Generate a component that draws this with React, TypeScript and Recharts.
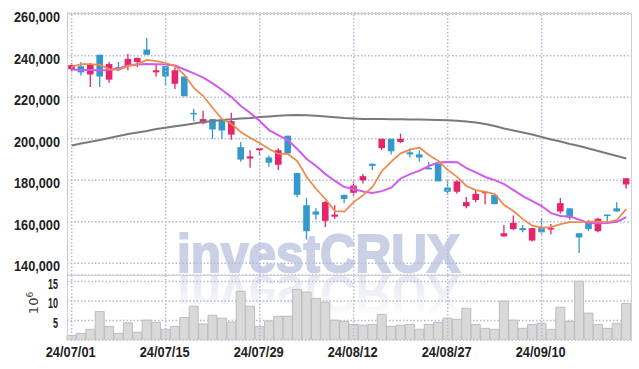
import { ComposedChart, Bar, Line, XAxis, YAxis, CartesianGrid, ReferenceLine } from "recharts";

// trading days shown on the chart
const dates = [
  "24/07/01", "24/07/02", "24/07/03", "24/07/04", "24/07/05", "24/07/08", "24/07/09", "24/07/10", "24/07/11", "24/07/12",
  "24/07/15", "24/07/16", "24/07/17", "24/07/18", "24/07/19", "24/07/22", "24/07/23", "24/07/24", "24/07/25", "24/07/26",
  "24/07/29", "24/07/30", "24/07/31", "24/08/01", "24/08/02", "24/08/05", "24/08/06", "24/08/07", "24/08/08", "24/08/09",
  "24/08/12", "24/08/13", "24/08/14", "24/08/16", "24/08/19", "24/08/20", "24/08/21", "24/08/22", "24/08/23", "24/08/26",
  "24/08/27", "24/08/28", "24/08/29", "24/08/30", "24/09/02", "24/09/03", "24/09/04", "24/09/05", "24/09/06", "24/09/09",
  "24/09/10", "24/09/11", "24/09/12", "24/09/13", "24/09/19", "24/09/20", "24/09/23", "24/09/24", "24/09/25", "24/09/26",
];
const dateTicks = ["24/07/01", "24/07/15", "24/07/29", "24/08/12", "24/08/27", "24/09/10"];

const opens = [
  233500, 235000, 231000, 240500, 228500, 234500, 235000, 237000, 243000, 232000,
  235000, 226500, 230000, 212500, 207500, 209500, 209000, 202000, 196000, 190500,
  194500, 191000, 187500, 201500, 183500, 168000, 165000, 160500, 162500, 173000,
  174000, 180000, 188000, 195500, 200000, 198500, 193500, 192500, 186000, 188000,
  176500, 174500, 167500, 170500, 174000, 173000, 153000, 156500, 157000, 151000,
  157500, 156500, 165000, 166500, 154500, 160000, 155500, 163500, 166500, 178000,
];
const highs = [
  236500, 237000, 236500, 240500, 237000, 237000, 241000, 239000, 248500, 236000,
  235000, 234500, 230000, 214500, 213500, 209500, 209000, 212500, 198500, 194500,
  195500, 192000, 195500, 201500, 183500, 171500, 166500, 170000, 168000, 173000,
  179500, 183000, 188000, 200000, 200000, 202500, 195500, 194500, 189000, 188000,
  180000, 180000, 172000, 175500, 174500, 173000, 158500, 163000, 158500, 157000,
  161500, 159000, 171500, 166500, 154500, 161000, 162000, 163500, 169500, 181000,
];
const lows = [
  232000, 230500, 225000, 225000, 227000, 232500, 233000, 234500, 240500, 230000,
  226000, 224000, 220500, 208500, 207000, 200000, 200000, 199500, 189000, 186000,
  192000, 186500, 185000, 193000, 172000, 151500, 161000, 157500, 161500, 169000,
  172500, 178500, 185000, 194500, 192500, 198000, 191000, 189000, 185500, 179500,
  173000, 173500, 166500, 169500, 168500, 168500, 153000, 156000, 155000, 150500,
  154000, 154000, 164000, 161000, 145000, 155500, 155000, 159500, 165000, 176000,
];
const closes = [
  235500, 232000, 236000, 230000, 236000, 233500, 238500, 239000, 240500, 233000,
  230000, 233000, 220500, 212000, 209500, 204500, 204000, 208500, 190000, 191500,
  195500, 188500, 194500, 193000, 173000, 155500, 163500, 169500, 163500, 171000,
  177500, 182000, 187000, 200000, 194000, 200000, 192500, 191000, 185500, 179500,
  174500, 179500, 169500, 173500, 174500, 168500, 154500, 159500, 156000, 157000,
  155000, 157000, 169000, 162000, 152500, 156500, 161500, 163000, 165000, 181000,
];

const ma5 = [
  234700, 236000, 236000, 235600, 233600, 233200, 235100, 236000, 238000, 237400,
  236500, 235100, 230700, 224500, 220600, 214800, 209500, 207100, 203300, 200400,
  198000, 195100, 192700, 192700, 189300, 181600, 175800, 171000, 165200, 164900,
  169500, 172900, 176800, 184500, 189000, 193000, 194800, 195700, 192200, 189400,
  185000, 181700, 177300, 175300, 174400, 173400, 168100, 165200, 161300, 158200,
  157200, 157500, 158900, 159900, 159800, 160100, 160100, 159800, 160900, 166200,
];
const ma20 = [
  233400, 233200, 233100, 233000, 233100, 233900, 235300, 235800, 236000, 235900,
  235800, 235300, 233400, 231500, 229500, 226700, 223500, 220100, 215800, 212400,
  208600, 204200, 201600, 199400, 195100, 190300, 186900, 183000, 179700, 176800,
  175800, 174600, 173900, 174800, 176500, 180900, 183000, 184700, 186900, 188600,
  188800, 188700, 185900, 183800, 181600, 180100, 178200, 175300, 172400, 170000,
  167600, 164200, 162800, 162600, 161100, 159400, 159300, 159400, 160000, 162300,
];
const ma120 = [
  196800, 197700, 198600, 199400, 200400, 201400, 202300, 203000, 203800, 204700,
  205300, 206000, 206700, 207400, 208100, 208600, 209100, 209400, 209800, 210000,
  210500, 210800, 211100, 211400, 211500, 211300, 211100, 210700, 210400, 210000,
  209800, 209600, 209500, 209500, 209400, 209400, 209300, 209300, 209200, 209100,
  208900, 208700, 208300, 207900, 207100, 206200, 205000, 204000, 203000, 202100,
  200900, 199700, 198700, 197500, 196500, 195300, 194100, 192900, 191700, 190500,
];

// volume in millions of shares (10^6)
const volumes = [
  1.2, 1.7, 2.75, 7.3, 3.5, 1.7, 4.4, 2.0, 5.1, 4.55,
  2.75, 3.5, 5.8, 8.7, 4.1, 6.35, 5.6, 4.6, 12.5, 8.7,
  3.5, 4.9, 6.1, 6.1, 13.0, 12.3, 10.7, 9.7, 5.1, 4.8,
  4.0, 3.8, 4.0, 6.6, 3.5, 3.8, 4.0, 2.75, 4.0, 4.55,
  5.6, 5.3, 8.15, 4.0, 3.0, 2.75, 10.0, 5.1, 3.0, 4.0,
  4.3, 2.75, 8.4, 4.8, 15.1, 6.9, 4.0, 3.0, 4.3, 9.4,
];

const priceTicks = [140000, 160000, 180000, 200000, 220000, 240000, 260000];
const volumeTicks = [5, 10, 15];

const data = dates.map((date, i) => ({
  date,
  open: opens[i],
  high: highs[i],
  low: lows[i],
  close: closes[i],
  ma5: ma5[i],
  ma20: ma20[i],
  ma120: ma120[i],
  volume: volumes[i],
}));

const RED = "#e6246a";
const BLUE = "#3399cc";
const GRID = "#b4b8d3";
const DASH = "1.5 2";
const FONT = "'Liberation Sans', Arial, sans-serif";
const tickFont = { fontFamily: FONT, fontSize: 14.5, fontWeight: 700, fill: "#222" };

const Candle = (props: any) => {
  const { x, y, width, height, payload } = props;
  const { open, close, high, low } = payload;
  const top = Math.min(y, y + height);
  const h = Math.abs(height);
  const ratio = high === low ? 0 : h / (high - low);
  const color = close >= open ? RED : BLUE;
  const cx = x + width / 2;
  const bodyTop = top + (high - Math.max(open, close)) * ratio;
  const bodyH = Math.max(1.5, Math.abs(open - close) * ratio);
  return (
    <g>
      <line x1={cx} x2={cx} y1={top} y2={top + h} stroke={color} strokeWidth={1.3} />
      <rect x={cx - 3.3} y={bodyTop} width={6.6} height={bodyH} fill={color} />
    </g>
  );
};

// the reference uses a narrow bold face, squeeze Liberation Sans to the same width
const PriceTick = ({ x, y, payload }: any) => (
  <text x={x + 1} y={y} dy={8} textAnchor="end" style={tickFont} textLength={46} lengthAdjust="spacingAndGlyphs">
    {payload.value.toLocaleString("en-US")}
  </text>
);

const VolumeTick = ({ x, y, payload }: any) => {
  const s = String(payload.value);
  return (
    <text x={x - 1} y={y} dy={7} textAnchor="end" style={tickFont} textLength={s.length * 5} lengthAdjust="spacingAndGlyphs">
      {s}
    </text>
  );
};

const DateTick = ({ x, y, payload }: any) => (
  <text x={x - 1} y={y} dy={9} textAnchor="middle" style={tickFont} textLength={50} lengthAdjust="spacingAndGlyphs">
    {payload.value}
  </text>
);

const Watermark = () => (
  <svg width={639} height={369} style={{ position: "absolute", left: 0, top: 0 }}>
    <defs>
      <linearGradient id="fade" gradientUnits="userSpaceOnUse" x1={0} y1={272} x2={0} y2={232}>
        <stop offset="0" stopColor="#d3d7ea" stopOpacity={0.6} />
        <stop offset="1" stopColor="#d3d7ea" stopOpacity={0.05} />
      </linearGradient>
    </defs>
    <text x={177} y={272} fontFamily={FONT} fontWeight={700} fontSize={54} stroke="#cad0e6" strokeWidth={2}
      textLength={283} lengthAdjust="spacingAndGlyphs" fill="#cad0e6">
      investCRUX
    </text>
    <g transform="translate(0,548) scale(1,-1)">
      <text x={177} y={272} fontFamily={FONT} fontWeight={700} fontSize={54}
        textLength={283} lengthAdjust="spacingAndGlyphs" fill="url(#fade)">
        investCRUX
      </text>
    </g>
  </svg>
);

const App = () => {
  return (
    <div style={{ position: "absolute", left: 0, top: 0, width: 639, height: 369, background: "#fff" }}>
      <Watermark />
      <div style={{ position: "absolute", left: 0, top: 0 }}>
        <ComposedChart width={639} height={276} data={data} margin={{ top: 13, right: 8, bottom: 1, left: 0 }} barCategoryGap={0}>
          <CartesianGrid vertical={false} stroke={GRID} strokeWidth={1.5} strokeDasharray={DASH} />
          <XAxis dataKey="date" hide />
          <YAxis
            width={67}
            domain={[134400, 260600]}
            ticks={priceTicks}
            interval={0}
            allowDataOverflow
            tickLine={false}
            axisLine={false}
            tick={<PriceTick />}
          />
          {dateTicks.map((d) => (
            <ReferenceLine key={d} x={d} stroke={GRID} strokeWidth={1.5} strokeDasharray={DASH} />
          ))}
          <Line type="linear" dataKey="ma120" stroke="#7a7a7a" strokeWidth={2} dot={false} isAnimationActive={false} />
          <Bar dataKey={(d: any) => [d.low, d.high]} shape={<Candle />} isAnimationActive={false} />
          <Line type="linear" dataKey="ma20" stroke="#cf5ced" strokeWidth={2} dot={false} isAnimationActive={false} />
          <Line type="linear" dataKey="ma5" stroke="#f0884a" strokeWidth={1.7} dot={false} isAnimationActive={false} />
        </ComposedChart>
      </div>
      <div style={{ position: "absolute", left: 0, top: 275 }}>
        <ComposedChart width={639} height={94} data={data} margin={{ top: 0, right: 8, bottom: 0, left: 0 }} barCategoryGap={0}>
          <CartesianGrid vertical={false} stroke={GRID} strokeWidth={1.5} strokeDasharray={DASH} />
          <XAxis
            dataKey="date"
            ticks={dateTicks}
            interval={0}
            height={29}
            tickLine={false}
            axisLine={false}
            tick={<DateTick />}
          />
          <YAxis
            width={67}
            domain={[0, 16.7]}
            ticks={volumeTicks}
            interval={0}
            allowDataOverflow
            tickLine={false}
            axisLine={false}
            tick={<VolumeTick />}
          />
          {dateTicks.map((d) => (
            <ReferenceLine key={d} x={d} stroke={GRID} strokeWidth={1.5} strokeDasharray={DASH} />
          ))}
          <Bar dataKey="volume" fill="#d9d9d9" stroke="#bdbdbd" strokeWidth={1} isAnimationActive={false} />
        </ComposedChart>
      </div>
      <div style={{ position: "absolute", left: 67, top: 13, width: 563, height: 327, border: "1px solid #d0d0d0", borderBottom: "none", pointerEvents: "none" }} />
      <div style={{ position: "absolute", left: 67, top: 275, width: 564, height: 0, borderTop: "1px solid #d0d0d0", pointerEvents: "none" }} />
      <div
        style={{
          position: "absolute",
          left: 33,
          top: 303,
          transform: "translate(-50%, -50%) rotate(-90deg)",
          fontFamily: "'DejaVu Sans', sans-serif",
          fontSize: 13,
          color: "#444",
          whiteSpace: "nowrap",
        }}
      >
        10<sup style={{ fontSize: 9 }}>6</sup>
      </div>
    </div>
  );
};

export default App;
